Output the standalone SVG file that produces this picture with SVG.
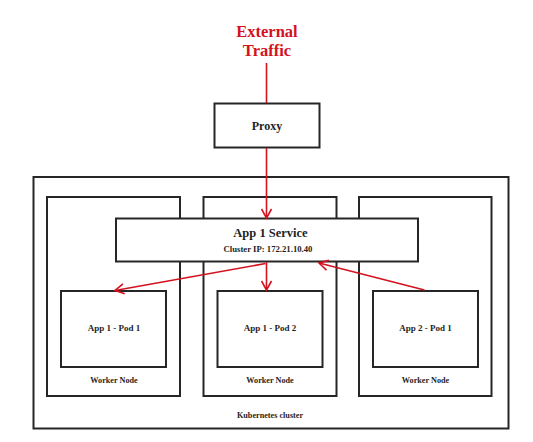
<svg xmlns="http://www.w3.org/2000/svg" width="533" height="442" viewBox="0 0 533 442">
<style>
.box{fill:#fff;stroke:#262626;stroke-width:2}
.t{font-family:"Liberation Serif","Times New Roman",serif;font-weight:bold;fill:#1e1e1e;text-anchor:middle}
.red{font-family:"Liberation Serif","Times New Roman",serif;font-weight:bold;fill:#d4111e;text-anchor:middle;font-size:16.5px}
.link{fill:none;stroke:#d4111e;stroke-width:1.6}
</style>
<defs>
<marker id="arr" markerUnits="userSpaceOnUse" viewBox="0 0 12 12" refX="10" refY="6" markerWidth="12" markerHeight="12" orient="auto">
<path d="M1,1 L10,6 L1,11" fill="none" stroke="#d4111e" stroke-width="1.6"/>
</marker>
</defs>
<rect width="533" height="442" fill="#fff"/>
<g id="external">
<text class="red" x="267" y="37">External</text>
<text class="red" x="267" y="56">Traffic</text>
</g>
<g id="proxy">
<rect class="box" x="214.5" y="103.5" width="105" height="44"/>
<text class="t" x="267" y="129.5" font-size="12">Proxy</text>
</g>
<g id="cluster">
<rect class="box" x="33.5" y="177" width="475" height="251.5"/>
<text class="t" x="270" y="417.5" font-size="8.2">Kubernetes cluster</text>
</g>
<g id="worker1">
<rect class="box" x="47" y="197" width="133" height="199"/>
<text class="t" x="114" y="382.5" font-size="8.2">Worker Node</text>
</g>
<g id="worker2">
<rect class="box" x="203.5" y="197" width="133" height="199"/>
<text class="t" x="270" y="382.5" font-size="8.2">Worker Node</text>
</g>
<g id="worker3">
<rect class="box" x="359" y="197" width="132.5" height="199"/>
<text class="t" x="425.5" y="382.5" font-size="8.2">Worker Node</text>
</g>
<g id="service">
<rect class="box" x="116" y="218.5" width="302" height="43"/>
<text class="t" x="270.5" y="236.5" font-size="12.5">App 1 Service</text>
<text class="t" x="268" y="251.5" font-size="8.7">Cluster IP: 172.21.10.40</text>
</g>
<g id="pod1">
<rect class="box" x="61" y="291" width="105" height="76"/>
<text class="t" x="114" y="331" font-size="9">App 1 - Pod 1</text>
</g>
<g id="pod2">
<rect class="box" x="217.5" y="291" width="105" height="76"/>
<text class="t" x="270" y="331" font-size="9">App 1 - Pod 2</text>
</g>
<g id="pod3">
<rect class="box" x="373" y="291" width="105" height="76"/>
<text class="t" x="425.5" y="331" font-size="9">App 2 - Pod 1</text>
</g>
<g id="connectors">
<line class="link" x1="266.5" y1="63" x2="266.5" y2="103"/>
<line class="link" x1="266.5" y1="148" x2="266.5" y2="218" marker-end="url(#arr)"/>
<line class="link" x1="266.5" y1="262" x2="266.5" y2="290" marker-end="url(#arr)"/>
<line class="link" x1="265.5" y1="263.5" x2="115" y2="290.5" marker-end="url(#arr)"/>
<line class="link" x1="424.5" y1="290" x2="319" y2="263" marker-end="url(#arr)"/>
</g>
</svg>
